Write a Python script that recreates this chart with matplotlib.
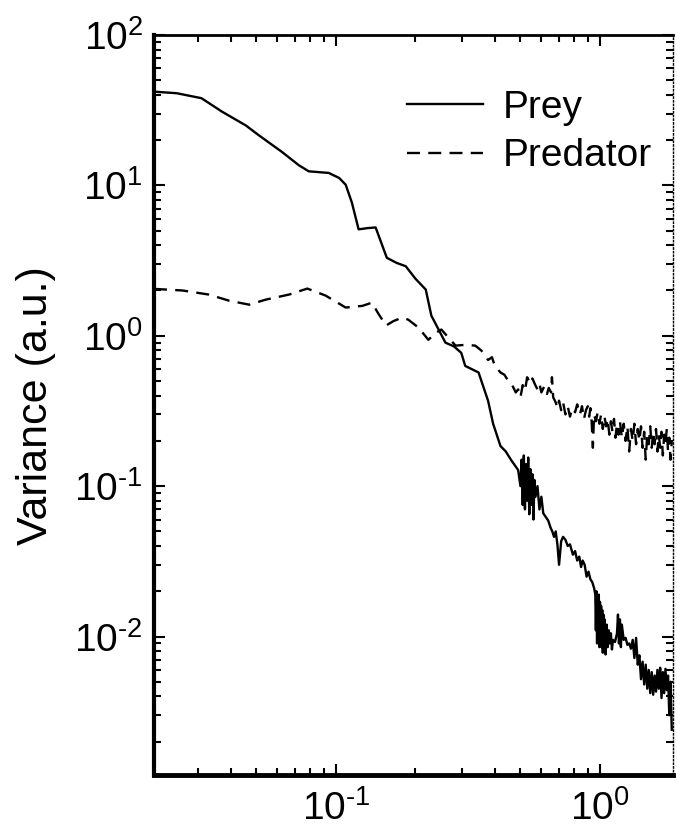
import matplotlib
matplotlib.use("Agg")
import matplotlib.pyplot as plt
from matplotlib.ticker import LogLocator, NullFormatter, FuncFormatter
import numpy as np

# Variance spectra (frequency, a.u.)
prey_x = [0.0205, 0.025, 0.031, 0.037, 0.0457, 0.051, 0.0625, 0.0725, 0.079, 0.094,
          0.103, 0.109, 0.115, 0.122, 0.132, 0.1415, 0.156, 0.17, 0.184, 0.2,
          0.219, 0.23, 0.245, 0.26, 0.28, 0.2985, 0.309, 0.347, 0.377, 0.394,
          0.41, 0.42, 0.44, 0.46, 0.49,
          0.50, 0.505, 0.51, 0.515, 0.52, 0.525, 0.53, 0.535, 0.54, 0.545,
          0.55, 0.555, 0.56, 0.565, 0.57, 0.58, 0.59, 0.60, 0.61,
          0.625, 0.637, 0.65, 0.66, 0.67, 0.68, 0.69, 0.70, 0.713, 0.725,
          0.74, 0.755, 0.77, 0.79, 0.805, 0.82, 0.835, 0.848, 0.86, 0.875,
          0.89, 0.905, 0.92, 0.935, 0.95,
          0.96, 0.965, 0.97, 0.975, 0.98, 0.985, 0.99, 0.995, 1.0, 1.005,
          1.01, 1.015, 1.02, 1.025, 1.03, 1.035, 1.04, 1.05, 1.06, 1.07,
          1.08, 1.09, 1.1, 1.11, 1.12,
          1.14, 1.16, 1.17, 1.18, 1.19, 1.2, 1.21, 1.23, 1.25, 1.27,
          1.29, 1.31, 1.33, 1.35, 1.37, 1.39, 1.41, 1.43, 1.45, 1.47,
          1.49, 1.51, 1.53, 1.55, 1.57, 1.59, 1.61, 1.63, 1.65, 1.67,
          1.69, 1.71, 1.73, 1.75, 1.77, 1.79, 1.81, 1.83, 1.85, 1.87]
prey_y = [42, 41, 38, 31, 25, 21.6, 16.7, 13.6, 12.4, 12.1,
          11.2, 10.1, 7.7, 5.1, 5.2, 5.25, 3.3, 3.05, 2.9, 2.4,
          2.03, 1.36, 1.1, 0.9, 0.85, 0.77, 0.63, 0.57, 0.37, 0.26,
          0.21, 0.185, 0.17, 0.15, 0.128,
          0.10, 0.15, 0.075, 0.16, 0.07, 0.14, 0.08, 0.155, 0.065, 0.13,
          0.075, 0.12, 0.06, 0.11, 0.085, 0.1, 0.07, 0.085, 0.066,
          0.062, 0.059, 0.053, 0.05, 0.046, 0.05, 0.041, 0.03, 0.043, 0.046,
          0.044, 0.04, 0.041, 0.035, 0.037, 0.032, 0.034, 0.029, 0.032, 0.03,
          0.025, 0.027, 0.024, 0.023, 0.021,
          0.019, 0.011, 0.02, 0.009, 0.018, 0.0095, 0.019, 0.0085, 0.017, 0.009,
          0.016, 0.0085, 0.015, 0.0078, 0.014, 0.0082, 0.013, 0.0076, 0.012, 0.0085,
          0.011, 0.009, 0.0105, 0.0082, 0.0095,
          0.0092, 0.0105, 0.014, 0.009, 0.013, 0.0085, 0.012, 0.0095, 0.0098, 0.0088,
          0.009, 0.0083, 0.0095, 0.0072, 0.0098, 0.0065, 0.0075, 0.0052, 0.0068, 0.0048,
          0.0065, 0.0045, 0.006, 0.0042, 0.0058, 0.0041, 0.0055, 0.0043, 0.006, 0.0045,
          0.0062, 0.0039, 0.0058, 0.0042, 0.0061, 0.0044, 0.0055, 0.003, 0.005, 0.0024]

pred_x = [0.0205, 0.0263, 0.033, 0.0395, 0.047, 0.0544, 0.0666, 0.078, 0.0915, 0.109,
          0.126, 0.137, 0.145, 0.155, 0.165, 0.178, 0.188, 0.206, 0.224, 0.24,
          0.251, 0.27, 0.284, 0.31, 0.337, 0.355, 0.368, 0.377, 0.39, 0.40,
          0.41, 0.42, 0.435, 0.45, 0.465, 0.48, 0.49, 0.5, 0.51, 0.52,
          0.53, 0.545, 0.555, 0.569, 0.58, 0.59, 0.6, 0.615, 0.63, 0.64,
          0.653, 0.658, 0.665, 0.68, 0.69, 0.7, 0.713, 0.725, 0.74, 0.755,
          0.77, 0.785, 0.805, 0.82, 0.84, 0.855, 0.87, 0.885,
          0.90, 0.91, 0.92, 0.93, 0.94, 0.95, 0.965, 0.98, 0.995, 1.01,
          1.025, 1.04, 1.055, 1.07, 1.085, 1.1, 1.115, 1.13, 1.145, 1.16,
          1.175, 1.19, 1.21, 1.23, 1.25, 1.27, 1.29, 1.31, 1.33, 1.35,
          1.37, 1.39, 1.41, 1.43, 1.45, 1.47, 1.49, 1.51, 1.53, 1.55,
          1.57, 1.59, 1.61, 1.63, 1.65, 1.67, 1.69, 1.71, 1.73, 1.75,
          1.77, 1.79, 1.81, 1.83, 1.85, 1.87]
pred_y = [2.05, 2.0, 1.88, 1.71, 1.61, 1.74, 1.88, 2.06, 1.85, 1.54,
          1.58, 1.66, 1.4, 1.17, 1.25, 1.32, 1.28, 1.13, 0.94, 1.05,
          1.1, 0.95, 0.86, 0.87, 0.86, 0.8, 0.74, 0.69, 0.72, 0.63,
          0.6, 0.57, 0.55, 0.5, 0.47, 0.42, 0.44, 0.39, 0.47, 0.43,
          0.53, 0.48, 0.52, 0.47, 0.44, 0.48, 0.42, 0.46, 0.41, 0.45,
          0.42, 0.53, 0.39, 0.36, 0.33, 0.37, 0.32, 0.36, 0.3, 0.34,
          0.29, 0.33, 0.31, 0.35, 0.3, 0.34, 0.28, 0.32,
          0.34, 0.29, 0.33, 0.27, 0.18, 0.3, 0.27, 0.31, 0.26, 0.3,
          0.24, 0.29, 0.25, 0.28, 0.22, 0.27, 0.23, 0.28, 0.21, 0.26,
          0.22, 0.27, 0.21, 0.26, 0.2, 0.25, 0.17, 0.24, 0.2, 0.26,
          0.19, 0.24, 0.2, 0.25, 0.18, 0.23, 0.15, 0.22, 0.19, 0.25,
          0.18, 0.23, 0.19, 0.24, 0.17, 0.22, 0.18, 0.23, 0.16, 0.22,
          0.19, 0.24, 0.17, 0.21, 0.15, 0.2]

plt.rcParams['font.family'] = ['Liberation Sans', 'DejaVu Sans']
plt.rcParams['mathtext.fontset'] = 'custom'
plt.rcParams['mathtext.rm'] = 'Liberation Sans'
plt.rcParams['mathtext.it'] = 'Liberation Sans'
plt.rcParams['axes.unicode_minus'] = False


def pow10(val, pos):
    # short hyphen for the minus, as in the original figure
    e = int(round(np.log10(val)))
    if e < 0:
        return r'$\mathdefault{10^{\text{-}%d}}$' % (-e)
    return r'$\mathdefault{10^{%d}}$' % e


fig = plt.figure(figsize=(6.77, 8.35), dpi=100)
ax = fig.add_axes([154 / 677, 1 - 775 / 835, 519 / 677, 740 / 835])

ax.loglog(prey_x, prey_y, color='black', lw=1.7, label='Prey')
ax.loglog(pred_x, pred_y, color='black', lw=1.7, linestyle=(0, (5.5, 3.5)), label='Predator')

ax.set_xlim(0.0205, 1.89)
ax.set_ylim(1.2e-3, 100)

ax.yaxis.set_major_locator(LogLocator(base=10, numticks=10))
ax.yaxis.set_minor_locator(LogLocator(base=10, subs=range(2, 10), numticks=20))
ax.xaxis.set_minor_locator(LogLocator(base=10, subs=range(2, 10), numticks=20))
ax.xaxis.set_major_formatter(FuncFormatter(pow10))
ax.yaxis.set_major_formatter(FuncFormatter(pow10))
ax.xaxis.set_minor_formatter(NullFormatter())
ax.yaxis.set_minor_formatter(NullFormatter())

ax.tick_params(which='both', direction='in', top=True, right=True, width=1.5)
ax.tick_params(which='major', length=8, labelsize=28)
ax.tick_params(axis='y', which='major', pad=8)
ax.tick_params(axis='x', which='major', pad=11)
ax.tick_params(which='minor', length=5)

ax.spines['left'].set_linewidth(3)
ax.spines['bottom'].set_linewidth(3.5)
ax.spines['top'].set_linewidth(2)
ax.spines['right'].set_linewidth(1)
ax.spines['right'].set_linestyle(':')

fig.text(36 / 677, 0.514, 'Variance (a.u.)', rotation=90, ha='center', va='center',
         fontsize=31)

ax.legend(loc='upper left', bbox_to_anchor=(0.4875, 0.926), frameon=False,
          fontsize=28, handlelength=1.95, handletextpad=0.5, labelspacing=0.32,
          borderpad=0, borderaxespad=0)

fig.savefig('out.png', dpi=100)
